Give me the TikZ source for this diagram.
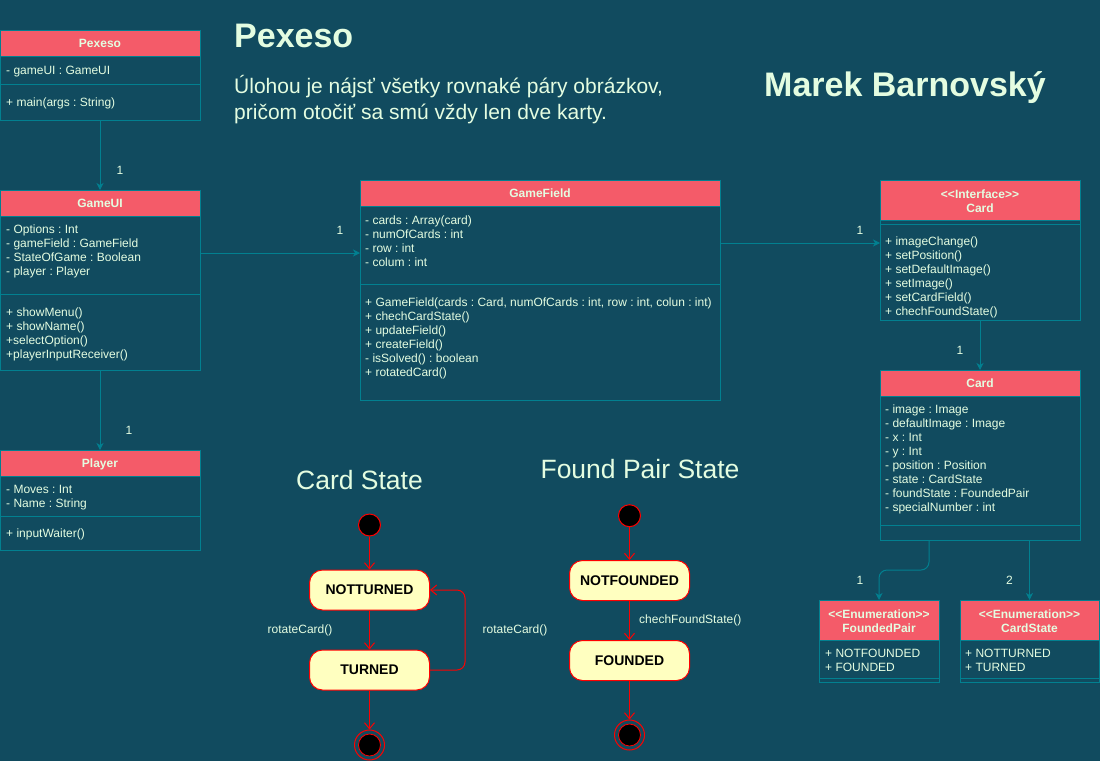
\documentclass[tikz,border=0pt]{standalone}
\usepackage{fontspec}
\setmainfont{Liberation Sans}
\usetikzlibrary{arrows.meta,calc}
\frenchspacing
\definecolor{bg}{HTML}{114B5F}
\definecolor{hdr}{HTML}{F45B69}
\definecolor{txt}{HTML}{E4FDE1}
\definecolor{edgec}{HTML}{028090}
\definecolor{stfill}{HTML}{FFFFC0}
\tikzset{
  classbox/.style={draw=edgec, line width=1pt, fill=bg, rectangle, anchor=north west, inner sep=0pt, outer sep=0pt},
  hdrfill/.style={fill=hdr, draw=edgec, line width=1pt},
  divline/.style={draw=edgec, line width=1pt},
  hdrtext/.style={text=txt, font=\fontsize{12}{14}\selectfont\bfseries, align=center, inner sep=0pt},
  bodytxt/.style={text=txt, font=\fontsize{12}{14}\selectfont, align=left, anchor=north west, inner sep=0pt},
  uml/.style={draw=edgec, line width=1pt, -{Stealth[length=7pt,width=7pt,inset=2pt]}},
  mult/.style={text=txt, font=\fontsize{12}{14}\selectfont, inner sep=0pt},
  initnode/.style={circle, draw=red, fill=black, minimum size=22pt, inner sep=0pt, line width=1pt},
  finalnode/.style={circle, draw=red, minimum size=30pt, inner sep=0pt, line width=1pt,
     path picture={\draw[red, fill=black, line width=0.8pt] (path picture bounding box.center) circle[radius=11pt];}},
  stnode/.style={rectangle, rounded corners=13pt, draw=red, fill=stfill, minimum width=120pt, minimum height=40pt, inner sep=0pt, font=\fontsize{14}{16}\selectfont\bfseries, text=black, line width=1pt},
  trans/.style={draw=red, line width=1pt, -{Straight Barb[length=6pt,width=10pt]}},
  stlabel/.style={text=txt, font=\fontsize{12}{14}\selectfont, inner sep=0pt},
}
\newcommand{\umlbox}[7]{%
  \node[classbox, minimum width=#4pt, minimum height=#5pt] (#1) at (#2,#3) {};
  \draw[hdrfill] (#1.north west) rectangle ($(#1.north east)+(0,#6)$);
  \draw[divline] ($(#1.north west)+(0,#7)$) -- ($(#1.north east)+(0,#7)$);
}
\newcommand{\bodyat}[4]{\node[bodytxt] (#1) at (#2,#3-9.8) {#4};}
\begin{document}
\frenchspacing
\begin{tikzpicture}[x=1pt,y=-1pt]
\fill[bg] (0,0) rectangle (1100,761);
\useasboundingbox (0,0) rectangle (1100,761);

% titles
\node[anchor=base west, inner sep=0pt, text=txt, font=\fontsize{34}{40}\selectfont\bfseries] (title) at (234,47.7) {Pexeso};
\node[anchor=north west, inner sep=0pt, align=left, text=txt, font=\fontsize{21}{26}\selectfont] (subtitle) at (234,93-18.2)
  {\strut Úlohou je nájsť všetky rovnaké páry obrázkov,\\\strut pričom otočiť sa smú vždy len dve karty.};
\node[anchor=base west, inner sep=0pt, text=txt, font=\fontsize{34}{40}\selectfont\bfseries] (author) at (764,96) {Marek Barnovský};

% classes
\umlbox{pexeso}{0}{30}{200}{90}{26}{54}
\node[hdrtext, anchor=base] (pexesoH) at (100,47.3) {Pexeso};
\bodyat{pexesoA}{6}{74}{\strut - gameUI : GameUI}
\bodyat{pexesoM}{6}{106}{\strut + main(args : String)}

\umlbox{gameui}{0}{190}{200}{180}{26}{104}
\node[hdrtext, anchor=base] (gameuiH) at (100,207.6) {GameUI};
\bodyat{gameuiA}{6}{233.5}{\strut - Options : Int\\\strut - gameField : GameField\\\strut - StateOfGame : Boolean\\\strut - player : Player}
\bodyat{gameuiM}{6}{316}{\strut + showMenu()\\\strut + showName()\\\strut +selectOption()\\\strut +playerInputReceiver()}

\umlbox{player}{0}{450}{200}{100}{26}{66}
\node[hdrtext, anchor=base] (playerH) at (100,467.6) {Player};
\bodyat{playerA}{6}{493}{\strut - Moves : Int\\\strut - Name : String}
\bodyat{playerM}{6}{537.5}{\strut + inputWaiter()}

\umlbox{gamefield}{360}{180}{360}{220}{26}{104}
\node[hdrtext, anchor=base] (gamefieldH) at (540,197.8) {GameField};
\bodyat{gamefieldA}{365}{224}{\strut - cards : Array(card)\\\strut - numOfCards : int\\\strut - row : int\\\strut - colum : int}
\bodyat{gamefieldM}{365}{306}{\strut + GameField(cards : Card, numOfCards : int, row : int, colun : int)\\\strut + chechCardState()\\\strut + updateField()\\\strut + createField()\\\strut - isSolved() : boolean\\\strut + rotatedCard()}

\umlbox{intcard}{880}{180}{200}{140}{40}{44}
\node[hdrtext] (intcardH) at (980,201) {<\kern0pt<Interface>\kern0pt>\\Card};
\bodyat{intcardM}{885}{245.7}{\strut + imageChange()\\\strut + setPosition()\\\strut + setDefaultImage()\\\strut + setImage()\\\strut + setCardField()\\\strut + chechFoundState()}

\umlbox{card}{880}{370}{200}{170}{26}{155}
\node[hdrtext, anchor=base] (cardH) at (980,387.6) {Card};
\bodyat{cardA}{885}{413.3}{\strut - image : Image\\\strut - defaultImage : Image\\\strut - x : Int\\\strut - y : Int\\\strut - position : Position\\\strut - state : CardState\\\strut - foundState : FoundedPair\\\strut - specialNumber : int}

\umlbox{enumfp}{819}{600}{120}{82}{40}{78}
\node[hdrtext] (enumfpH) at (879,621) {<\kern0pt<Enumeration>\kern0pt>\\FoundedPair};
\bodyat{enumfpA}{825}{657.3}{\strut + NOTFOUNDED\\\strut + FOUNDED}

\umlbox{enumcs}{960}{600}{139}{82}{40}{78}
\node[hdrtext] (enumcsH) at (1029.5,621) {<\kern0pt<Enumeration>\kern0pt>\\CardState};
\bodyat{enumcsA}{965}{657.3}{\strut + NOTTURNED\\\strut + TURNED}

% class connectors
\draw[uml] (pexeso.south) -- (gameui.north);
\node[mult] (m1) at (120,170) {1};
\draw[uml] (gameui.south) -- (player.north);
\node[mult] (m2) at (129,430) {1};
\coordinate (g1) at ($(gameui.north east)+(0,63)$);
\draw[uml] (g1) -- (g1 -| gamefield.west);
\node[mult] (m3) at (340,230) {1};
\coordinate (g2) at ($(gamefield.north east)+(0,63)$);
\draw[uml] (g2) -- (g2 -| intcard.west);
\node[mult] (m4) at (860,230) {1};
\draw[uml] (intcard.south) -- (card.north);
\node[mult] (m5) at (960,350) {1};
\draw[uml, rounded corners=8pt] ($(card.south)+(-51,0)$) -- ++(0,30) -| (enumfp.north);
\node[mult] (m6) at (860,580) {1};
\draw[uml] (card.south -| enumcs.north) -- (enumcs.north);
\node[mult] (m7) at (1009.5,580) {2};

% Card State diagram
\node[anchor=base, inner sep=0pt, text=txt, font=\fontsize{26.5}{30}\selectfont] (cstitle) at (359.5,489) {Card State};
\node[initnode] (i1) at (369.5,525) {};
\node[stnode] (nt) at (369.5,590) {NOTTURNED};
\node[stnode] (tu) at (369.5,670) {TURNED};
\node[finalnode] (f1) at (369.5,745) {};
\draw[trans] (i1) -- (nt);
\draw[trans] (nt) -- (tu);
\draw[trans] (tu) -- (f1);
\draw[trans, rounded corners=8pt] (tu.east) -| ($(nt.east)+(35,0)$) -- (nt.east);
\node[stlabel] (l1) at (300,630) {rotateCard()};
\node[stlabel] (l2) at (515,630) {rotateCard()};

% Found Pair State diagram
\node[anchor=base, inner sep=0pt, text=txt, font=\fontsize{26.5}{30}\selectfont] (fptitle) at (640,478.3) {Found Pair State};
\node[initnode] (i2) at (629.5,515.7) {};
\node[stnode] (nf) at (629.5,580.5) {NOTFOUNDED};
\node[stnode] (fo) at (629.5,660.5) {FOUNDED};
\node[finalnode] (f2) at (629.5,735) {};
\draw[trans] (i2) -- (nf);
\draw[trans] (nf) -- (fo);
\draw[trans] (fo) -- (f2);
\node[stlabel, anchor=west] (l3) at (639,620) {chechFoundState()};
\end{tikzpicture}
\end{document}
